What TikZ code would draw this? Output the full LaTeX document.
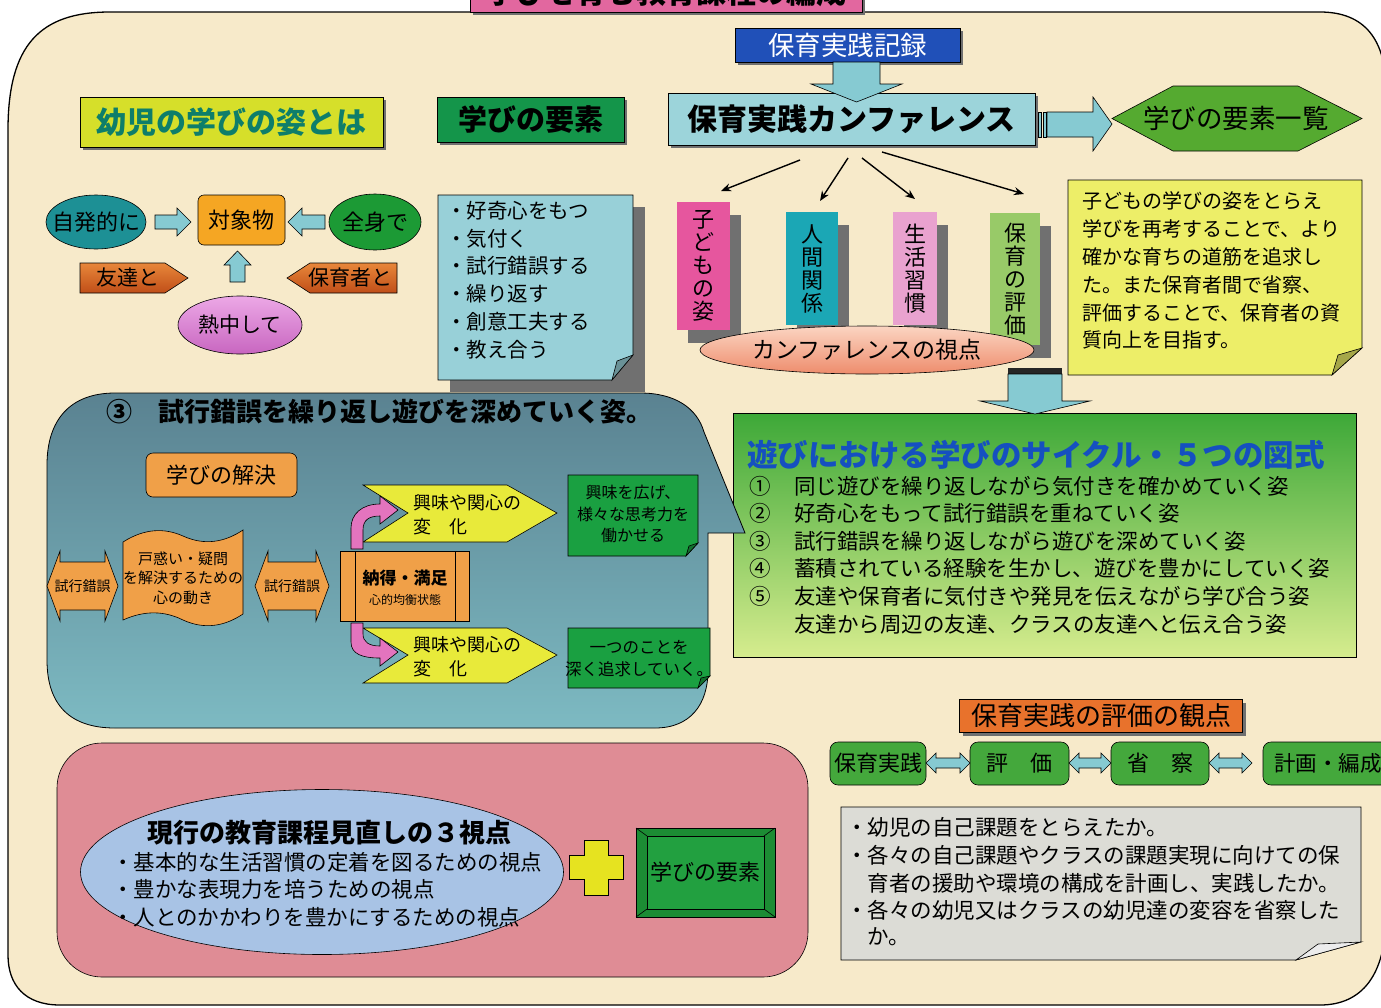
\documentclass[tikz,border=0pt]{standalone}
\usepackage{fontspec}
\setmainfont{Noto Sans CJK JP}
\usetikzlibrary{shapes.geometric,shadows,calc,arrows.meta}
\newcommand\fz[2]{\fontsize{#1}{#2}\selectfont}
\definecolor{beige}{HTML}{F7EACA}
\definecolor{titlepink}{HTML}{E2679F}
\definecolor{yelbox}{HTML}{D6DF2A}
\definecolor{tealtext}{HTML}{0E7E6A}
\definecolor{green1}{HTML}{14954A}
\definecolor{blue1}{HTML}{2050B8}
\definecolor{lblue}{HTML}{9CD4DA}
\definecolor{arrowblue}{HTML}{86CAD2}
\definecolor{hexgreen}{HTML}{55AA30}
\definecolor{tealell}{HTML}{1D9095}
\definecolor{orange1}{HTML}{F5A623}
\definecolor{pentop}{HTML}{E8873A}
\definecolor{penbot}{HTML}{C04E18}
\definecolor{greenell}{HTML}{1C9A35}
\definecolor{violtop}{HTML}{ECA8E6}
\definecolor{violbot}{HTML}{C866C0}
\definecolor{noteblue}{HTML}{98D0D8}
\definecolor{barpink}{HTML}{E6569E}
\definecolor{barteal}{HTML}{1BA7B5}
\definecolor{barlpink}{HTML}{E9A2CF}
\definecolor{barlgreen}{HTML}{98CA68}
\definecolor{salmontop}{HTML}{FBD5C2}
\definecolor{salmonbot}{HTML}{EE8C6C}
\definecolor{notey}{HTML}{EDEE68}
\definecolor{biggreentop}{HTML}{3DA838}
\definecolor{biggreenbot}{HTML}{D6EC8E}
\definecolor{titleblue}{HTML}{1550C0}
\definecolor{calltop}{HTML}{5A8291}
\definecolor{callbot}{HTML}{7DBAC2}
\definecolor{orange2}{HTML}{F0A048}
\definecolor{chev}{HTML}{E8EA3A}
\definecolor{notegreen}{HTML}{1AA041}
\definecolor{pinkarr}{HTML}{E374BE}
\definecolor{rose}{HTML}{DF8C95}
\definecolor{lav}{HTML}{A8C3E5}
\definecolor{plusy}{HTML}{E6E320}
\definecolor{bevgreen}{HTML}{1C8C34}
\definecolor{bevinner}{HTML}{22A040}
\definecolor{ortitle}{HTML}{E8722C}
\definecolor{rowgreen}{HTML}{44A83C}
\definecolor{greynote}{HTML}{DCDCD6}
\definecolor{shadowgray}{HTML}{707070}
\newcommand\hdarr[3]{%
 \path[barrow] (#1,#3) -- ++(10,-10) -- ++(0,5) -- ({#2-10},{#3-5}) -- ++(0,-5) -- (#2,#3) -- ++(-10,10) -- ++(0,-5) -- ({#1+10},{#3+5}) -- ++(0,5) -- cycle;}
\newcommand\tdarr[2]{%
 \path[oarrow] (#1,586) -- ++(13,-35) -- ++(0,11) -- ({#2-13},562) -- ++(0,-11) -- (#2,586) -- ++(-13,35) -- ++(0,-11) -- ({#1+13},610) -- ++(0,11) -- cycle;}
\begin{document}
\begin{tikzpicture}[x=1pt,y=-1pt,
  every node/.style={inner sep=0pt,outer sep=0pt},
  shad/.style={drop shadow={shadow xshift=3pt,shadow yshift=-3pt,fill=shadowgray,opacity=1}},
  barshad/.style={drop shadow={shadow xshift=11pt,shadow yshift=-13pt,fill=shadowgray,opacity=1}},
  box/.style={draw=black,line width=0.6pt},
  barrow/.style={fill=arrowblue,draw=black,line width=0.6pt},
  oarrow/.style={fill=orange2,draw=black,line width=0.6pt},
  thinarrow/.style={-{Stealth[length=10pt,width=8pt]},line width=1.4pt},
  listtext/.style={anchor=west,font=\fz{20.5}{20.5}},
  ytext/.style={anchor=west,font=\fz{20}{20}},
  itemtext/.style={anchor=west,font=\fz{21.5}{21.5}},
  bartext/.style={align=center,font=\fz{22}{23}}
]
\useasboundingbox (0,0) rectangle (1381,1007);
\clip (0,0) rectangle (1381,1007);
\fill[white] (0,0) rectangle (1381,1007);

% outer frame
\path[fill=beige,draw=black,line width=1.3pt] (8,130) .. controls (8,45) and (40,12) .. (110,12) -- (1320,12) .. controls (1365,12) and (1386,40) .. (1386,90) -- (1386,915) .. controls (1386,975) and (1362,1005) .. (1320,1005) -- (60,1005) .. controls (25,1005) and (8,985) .. (8,955) -- cycle;

% title (cut at top, as in the reference)
\node[shad,box,fill=titlepink,minimum width=392,minimum height=40,font=\bfseries\fz{30}{30}] (title) at (666,-8) {学びを育む教育課程の編成};

% top headings
\node[shad,box,fill=yelbox,text=tealtext,minimum width=303,minimum height=50,font=\bfseries\fz{30}{30}] (youji) at (231.5,122) {幼児の学びの姿とは};
\node[shad,box,fill=green1,minimum width=187,minimum height=45,font=\bfseries\fz{29}{29}] (yoso) at (530.5,119.5) {学びの要素};
\node[shad,box,fill=blue1,text=white,minimum width=225,minimum height=34,font=\fz{26.5}{26.5}] (kiroku) at (847.5,45) {保育実践記録};
\node[shad,box,fill=lblue,minimum width=367,minimum height=52,font=\bfseries\fz{30}{30}] (conf) at (851.5,119) {保育実践カンファレンス};
\path[barrow] (833,62) -- (880,62) -- (880,84) -- (902,84) -- (856.5,102) -- (811,84) -- (833,84) -- cycle;

% right arrow and hexagon
\path[barrow] (1038,112) rectangle (1041,137);
\path[barrow] (1043,112) rectangle (1046,137);
\path[barrow] (1047,112) -- (1093,112) -- (1093,97) -- (1112,124) -- (1093,151) -- (1093,137) -- (1047,137) -- cycle;
\path[box,fill=hexgreen] (1112,118.5) -- (1173,86) -- (1298,86) -- (1362,118.5) -- (1298,151) -- (1173,151) -- cycle;
\node[font=\fz{26.5}{26.5}] (ichiran) at (1236,118.5) {学びの要素一覧};

% left cluster
\node[ellipse,box,fill=tealell,minimum width=100,minimum height=54] (jihatsu) at (96,222) {};
\node[font=\fz{22}{22}] (jihatsut) at (jihatsu) {自発的に};
\node[box,fill=orange1,rounded corners=6,minimum width=87,minimum height=50,font=\fz{22}{22}] (taisho) at (241.5,220) {対象物};
\node[ellipse,box,fill=greenell,minimum width=92,minimum height=56] (zenshin) at (375,222) {};
\node[font=\fz{22}{22}] (zenshint) at (zenshin) {全身で};
\path[barrow] (155,215) -- (177,215) -- (177,208) -- (191,222) -- (177,236) -- (177,229) -- (155,229) -- cycle;
\path[barrow] (325,215) -- (302,215) -- (302,208) -- (288,222) -- (302,236) -- (302,229) -- (325,229) -- cycle;
\path[barrow] (230,282) -- (230,265) -- (224,265) -- (237.5,251) -- (251,265) -- (245,265) -- (245,282) -- cycle;
\path[box,top color=pentop,bottom color=penbot] (80,263) -- (165,263) -- (188,278) -- (165,293) -- (80,293) -- cycle;
\node[font=\fz{21}{21}] (tomo) at (128,278) {友達と};
\path[box,top color=pentop,bottom color=penbot] (397,263) -- (310,263) -- (287,278) -- (310,293) -- (397,293) -- cycle;
\node[font=\fz{21}{21}] (hoikusha) at (350,278) {保育者と};
\node[ellipse,box,top color=violtop,bottom color=violbot,minimum width=124,minimum height=58] (necchu) at (240,325) {};
\node[font=\fz{21}{21}] (necchut) at (necchu) {熱中して};

% blue note
\fill[shadowgray] (450,207) rectangle (645,392);
\path[box,fill=noteblue] (438,195) -- (633,195) -- (633,355) -- (612,380) -- (438,380) -- cycle;
\path[box,fill=noteblue!70!black] (612,380) -- (617,361) -- (633,355) -- cycle;
\node[listtext] (l1) at (446,211) {・好奇心をもつ};
\node[listtext] (l2) at (446,239) {・気付く};
\node[listtext] (l3) at (446,266) {・試行錯誤する};
\node[listtext] (l4) at (446,294) {・繰り返す};
\node[listtext] (l5) at (446,322) {・創意工夫する};
\node[listtext] (l6) at (446,350) {・教え合う};

% viewpoint bars
\node[barshad,fill=barpink,minimum width=53,minimum height=128] (b1) at (703.5,266) {};
\node[bartext] (b1t) at (b1) {子\\ど\\も\\の\\姿};
\node[barshad,fill=barteal,minimum width=52,minimum height=113] (b2) at (812,268.5) {};
\node[bartext] (b2t) at (b2) {人\\間\\関\\係};
\node[barshad,fill=barlpink,minimum width=44,minimum height=113] (b3) at (915,268.5) {};
\node[bartext] (b3t) at (b3) {生\\活\\習\\慣};
\node[barshad,fill=barlgreen,minimum width=50,minimum height=132] (b4) at (1015,279) {};
\node[bartext] (b4t) at (b4) {保\\育\\の\\評\\価};
\node[ellipse,box,top color=salmontop,bottom color=salmonbot,minimum width=334,minimum height=48] (shiten) at (867,350) {};
\node[font=\fz{23}{23}] (shitent) at (shiten) {カンファレンスの視点};

% thin arrows
\coordinate (s1) at (800,160); \coordinate (e1) at (721,191);
\coordinate (s2) at (848,158); \coordinate (e2) at (820,201);
\coordinate (s3) at (862,158); \coordinate (e3) at (915,199);
\coordinate (s4) at (882,152); \coordinate (e4) at (1024,194);
\draw[thinarrow] (s1) -- (e1);
\draw[thinarrow] (s2) -- (e2);
\draw[thinarrow] (s3) -- (e3);
\draw[thinarrow] (s4) -- (e4);

% yellow note
\path[box,fill=notey] (1068,180) -- (1362,180) -- (1362,348) -- (1332,375) -- (1068,375) -- cycle;
\path[box,fill=notey!70!black] (1332,375) -- (1338,355) -- (1362,348) -- cycle;
\node[ytext] (y1) at (1082,201) {子どもの学びの姿をとらえ};
\node[ytext] (y2) at (1082,229) {学びを再考することで、より};
\node[ytext] (y3) at (1082,257) {確かな育ちの道筋を追求し};
\node[ytext] (y4) at (1082,285) {た。また保育者間で省察、};
\node[ytext] (y5) at (1082,313) {評価することで、保育者の資};
\node[ytext] (y6) at (1082,340) {質向上を目指す。};

% big green box
\node[box,top color=biggreentop,bottom color=biggreenbot,minimum width=623,minimum height=244] (cyc) at (1044.5,535) {};
\node[anchor=west,text=titleblue,font=\bfseries\fz{30.5}{30.5}] (cyct) at (747,455) {遊びにおける学びのサイクル・５つの図式};
\node[itemtext] (n1) at (749,486) {①}; \node[itemtext] (i1) at (794,486) {同じ遊びを繰り返しながら気付きを確かめていく姿};
\node[itemtext] (n2) at (749,513) {②}; \node[itemtext] (i2) at (794,513) {好奇心をもって試行錯誤を重ねていく姿};
\node[itemtext] (n3) at (749,541) {③}; \node[itemtext] (i3) at (794,541) {試行錯誤を繰り返しながら遊びを深めていく姿};
\node[itemtext] (n4) at (749,568) {④}; \node[itemtext] (i4) at (794,568) {蓄積されている経験を生かし、遊びを豊かにしていく姿};
\node[itemtext] (n5) at (749,596) {⑤}; \node[itemtext] (i5) at (794,596) {友達や保育者に気付きや発見を伝えながら学び合う姿};
\node[itemtext] (i6) at (794,624) {友達から周辺の友達、クラスの友達へと伝え合う姿};

% down arrow to big box
\fill[black!85] (1008,368) rectangle (1062,374);
\path[barrow] (1008,374) -- (1062,374) -- (1062,401) -- (1090,401) -- (1035,414) -- (980,401) -- (1008,401) -- cycle;

% callout
\path[draw=black,line width=0.8pt,top color=calltop,bottom color=callbot] (115,393) -- (640,393) .. controls (675,393) and (697,408) .. (704,432) -- (745,533) -- (708,533) -- (708,670) .. controls (708,705) and (690,728) .. (655,728) -- (115,728) .. controls (70,728) and (47,705) .. (47,660) -- (47,465) .. controls (47,420) and (70,393) .. (115,393) -- cycle;
\node[anchor=west,font=\bfseries\fz{26}{26}] (c3) at (106,412) {③};
\node[anchor=west,font=\bfseries\fz{26}{26}] (ctitle) at (158,412) {試行錯誤を繰り返し遊びを深めていく姿。};
\node[box,fill=orange2,rounded corners=7,minimum width=151,minimum height=44,font=\fz{22}{22}] (kaiketsu) at (221.5,475) {学びの解決};
\tdarr{47}{118}
\node[font=\fz{14}{14}] (sk1) at (82.5,586) {試行錯誤};
\path[box,fill=orange2] (123,542) .. controls (145,528) and (165,528) .. (183,536) .. controls (205,546) and (225,542) .. (243,530) -- (243,614) .. controls (225,626) and (205,630) .. (183,620) .. controls (165,611) and (145,610) .. (123,620) -- cycle;
\node[align=center,font=\fz{15}{19.5}] (tomadoi) at (183,578) {戸惑い・疑問\\を解決するための\\心の動き};
\tdarr{255}{329}
\node[font=\fz{14}{14}] (sk2) at (292,586) {試行錯誤};
\node[box,fill=orange2,minimum width=129,minimum height=70] (nattoku) at (405,586) {};
\draw[line width=0.6pt] (355,551) -- (355,621);
\draw[line width=0.6pt] (455,551) -- (455,621);
\node[font=\bfseries\fz{17}{17}] (nattokut) at (405,578) {納得・満足};
\node[font=\fz{12}{12}] (kinko) at (405,600) {心的均衡状態};
\path[box,fill=chev] (363,485) -- (507,485) -- (557,513) -- (507,542) -- (363,542) -- (408,513) -- cycle;
\node[anchor=west,font=\fz{18}{18}] (kyomi1a) at (413,503) {興味や関心の};
\node[anchor=west,font=\fz{18}{18}] (kyomi1b) at (413,527) {変　化};
\path[box,fill=chev] (363,628) -- (507,628) -- (557,655) -- (507,683) -- (363,683) -- (408,655) -- cycle;
\node[anchor=west,font=\fz{18}{18}] (kyomi2a) at (413,645) {興味や関心の};
\node[anchor=west,font=\fz{18}{18}] (kyomi2b) at (413,669) {変　化};
\path[box,fill=pinkarr] (351,549) -- (351,528) .. controls (351,514) and (362,504) .. (380,504) -- (380,496) -- (398,510) -- (380,524) -- (380,516) .. controls (369,516) and (363,520) .. (363,530) -- (363,549) -- cycle;
\path[box,fill=pinkarr] (351,623) -- (351,642) .. controls (351,654) and (362,658) .. (380,658) -- (380,666) -- (398,652) -- (380,638) -- (380,646) .. controls (369,646) and (363,642) .. (363,634) -- (363,623) -- cycle;
\path[box,fill=notegreen] (568,475) -- (698,475) -- (698,543) -- (686,556) -- (568,556) -- cycle;
\path[box,fill=notegreen!70!black] (686,556) -- (689,546) -- (698,543) -- cycle;
\node[align=center,font=\fz{16}{21.5}] (hiroge) at (633,514) {興味を広げ、\\様々な思考力を\\働かせる};
\path[box,fill=notegreen] (568,628) -- (710,628) -- (710,676) -- (698,688) -- (568,688) -- cycle;
\path[box,fill=notegreen!70!black] (698,688) -- (701,678) -- (710,676) -- cycle;
\node[align=center,font=\fz{16.5}{22}] (tsuikyu) at (639,659) {一つのことを\\深く追求していく。};

% bottom pink panel
\path[box,fill=rose,rounded corners=45] (57,743) rectangle (808,977);
\node[ellipse,box,fill=lav,minimum width=483,minimum height=165] (ell3) at (322,872) {};
\node[font=\bfseries\fz{26}{26}] (genko) at (329,833) {現行の教育課程見直しの３視点};
\node[anchor=west,font=\fz{21.5}{21.5}] (g1) at (112,862) {・基本的な生活習慣の定着を図るための視点};
\node[anchor=west,font=\fz{21.5}{21.5}] (g2) at (112,889) {・豊かな表現力を培うための視点};
\node[anchor=west,font=\fz{21.5}{21.5}] (g3) at (112,917) {・人とのかかわりを豊かにするための視点};
\path[box,fill=plusy] (584,840) -- (608,840) -- (608,855) -- (623,855) -- (623,879) -- (608,879) -- (608,895) -- (584,895) -- (584,879) -- (569,879) -- (569,855) -- (584,855) -- cycle;
\path[box,fill=bevgreen] (636,828) rectangle (775,917);
\path[box,fill=bevinner] (647,836) rectangle (764,909);
\draw[line width=0.6pt] (636,828) -- (647,836) (775,828) -- (764,836) (636,917) -- (647,909) (775,917) -- (764,909);
\node[font=\fz{22}{22}] (yoso2) at (705.5,872.5) {学びの要素};

% evaluation section
\node[shad,box,fill=ortitle,minimum width=283,minimum height=33,font=\fz{26}{26}] (hyoka) at (1101,716) {保育実践の評価の観点};
\node[box,fill=rowgreen,rounded corners=8,minimum width=96,minimum height=43,font=\fz{22}{22}] (r1) at (878,763.5) {保育実践};
\node[box,fill=rowgreen,rounded corners=8,minimum width=99,minimum height=43,font=\fz{22}{22}] (r2) at (1019.5,763.5) {評　価};
\node[box,fill=rowgreen,rounded corners=8,minimum width=98,minimum height=43,font=\fz{22}{22}] (r3) at (1160,763.5) {省　察};
\node[box,fill=rowgreen,rounded corners=8,minimum width=132,minimum height=43] (r4) at (1329,763.5) {};
\node[font=\fz{21.5}{21.5}] (r4t) at (1328,763.5) {計画・編成};
\hdarr{926}{970}{763}
\hdarr{1069}{1111}{763}
\hdarr{1209}{1252}{763}
\path[box,fill=greynote] (841,807) -- (1361,807) -- (1361,942) -- (1296,960) -- (841,960) -- cycle;
\path[box,fill=white!85!gray] (1296,960) -- (1318,944) -- (1361,942) -- cycle;
\node[anchor=west,font=\fz{21.5}{21.5}] (k1) at (846,827) {・幼児の自己課題をとらえたか。};
\node[anchor=west,font=\fz{21.5}{21.5}] (k2) at (846,855) {・各々の自己課題やクラスの課題実現に向けての保};
\node[anchor=west,font=\fz{21.5}{21.5}] (k3) at (846,883) {　育者の援助や環境の構成を計画し、実践したか。};
\node[anchor=west,font=\fz{21.5}{21.5}] (k4) at (846,910) {・各々の幼児又はクラスの幼児達の変容を省察した};
\node[anchor=west,font=\fz{21.5}{21.5}] (k5) at (846,937) {　か。};
\end{tikzpicture}
\end{document}
